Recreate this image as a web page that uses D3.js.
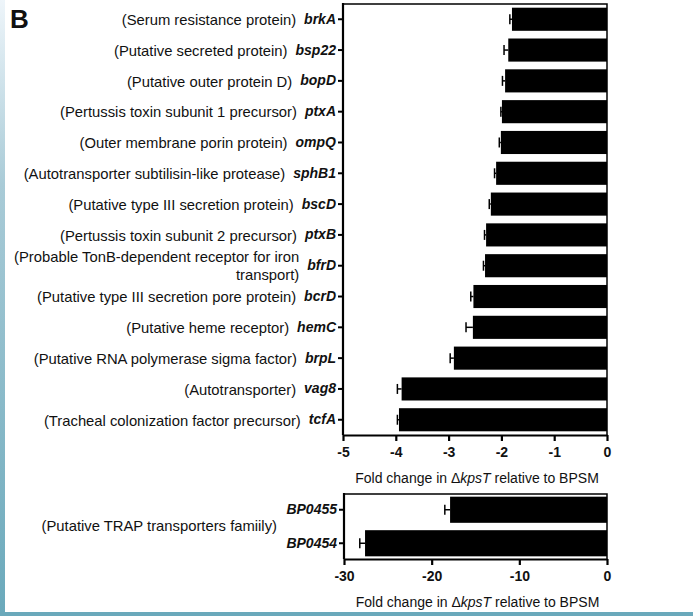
<!DOCTYPE html>
<html>
<head>
<meta charset="utf-8">
<script src="https://cdn.jsdelivr.net/npm/d3@7"></script>
<style>
  html, body { margin: 0; padding: 0; background: #fff; }
  svg { display: block; font-family: "Liberation Sans", Arial, sans-serif; }
</style>
</head>
<body>
<svg id="chart" width="693" height="616"></svg>
<script>
// Genes down-regulated in the kpsT mutant (fold change vs BPSM)
const genes = ["brkA", "bsp22", "bopD", "ptxA", "ompQ", "sphB1", "bscD", "ptxB", "bfrD", "bcrD", "hemC", "brpL", "vag8", "tcfA"];
const descriptions = [
  ["(Serum resistance protein)"],
  ["(Putative secreted protein)"],
  ["(Putative outer protein D)"],
  ["(Pertussis toxin subunit 1 precursor)"],
  ["(Outer membrane porin protein)"],
  ["(Autotransporter subtilisin-like protease)"],
  ["(Putative type III secretion protein)"],
  ["(Pertussis toxin subunit 2 precursor)"],
  ["(Probable TonB-dependent receptor for iron", "transport)"],
  ["(Putative type III secretion pore protein)"],
  ["(Putative heme receptor)"],
  ["(Putative RNA polymerase sigma factor)"],
  ["(Autotransporter)"],
  ["(Tracheal colonization factor precursor)"]
];
const foldChange = [-1.80, -1.87, -1.93, -1.99, -2.01, -2.10, -2.20, -2.29, -2.31, -2.53, -2.54, -2.90, -3.89, -3.94];
const foldError  = [0.04, 0.08, 0.05, 0.02, 0.03, 0.03, 0.03, 0.03, 0.03, 0.05, 0.13, 0.07, 0.08, 0.03];
const topTicks = [-5, -4, -3, -2, -1, 0];

// TRAP transporter genes
const trapGenes = ["BP0455", "BP0454"];
const trapDescription = "(Putative TRAP transporters famiily)";
const trapFold = [-17.9, -27.6];
const trapError = [0.6, 0.6];
const bottomTicks = [-30, -20, -10, 0];

const axisTitle = ["Fold change in \u0394", "kpsT", " relative to BPSM"];

const DESC_SIZE = 14.8;
const GENE_SIZE = 14;
const TICK_SIZE = 14;
const TITLE_SIZE = 14;

const svg = d3.select("#chart");

// page background with the tinted frame edge
const defs = svg.append("defs");
const grad = defs.append("linearGradient").attr("id", "edge").attr("x1", 0).attr("y1", 0).attr("x2", 0).attr("y2", 1);
grad.append("stop").attr("offset", "0").attr("stop-color", "#eef5fa");
grad.append("stop").attr("offset", "0.3").attr("stop-color", "#a9cbd7");
grad.append("stop").attr("offset", "1").attr("stop-color", "#6aa9bb");
svg.append("rect").attr("x", 0).attr("y", 0).attr("width", 693).attr("height", 616).attr("fill", "#fff");
svg.append("rect").attr("x", 0).attr("y", 0).attr("width", 5).attr("height", 616).attr("fill", "url(#edge)");
svg.append("rect").attr("x", 0).attr("y", 612).attr("width", 693).attr("height", 4).attr("fill", "#6aa9bb");

// panel letter
svg.append("text").attr("x", 10).attr("y", 28)
  .attr("font-size", 26).attr("font-weight", 900).attr("fill", "#111").text("B");

function drawPanel(cfg) {
  const x = d3.scaleLinear().domain(cfg.domain).range([cfg.left, cfg.right]);
  const y = d3.scaleBand().domain(cfg.cats).range([cfg.top, cfg.bottom])
    .paddingInner(cfg.padInner).paddingOuter(cfg.padOuter);
  const g = svg.append("g");

  // frame (top and right edges)
  g.append("path")
    .attr("d", `M${cfg.left},${cfg.top}H${cfg.right}V${cfg.bottom}`)
    .attr("fill", "none").attr("stroke", "#000").attr("stroke-width", 1.5);

  // bars
  g.selectAll("rect.bar").data(cfg.cats).join("rect")
    .attr("class", "bar")
    .attr("x", (d, i) => x(cfg.values[i]))
    .attr("y", d => y(d))
    .attr("width", (d, i) => x(0) - x(cfg.values[i]))
    .attr("height", y.bandwidth())
    .attr("fill", "#000");

  // error bars
  const eb = g.selectAll("g.err").data(cfg.cats).join("g").attr("class", "err");
  eb.append("line")
    .attr("x1", (d, i) => x(cfg.values[i]))
    .attr("x2", (d, i) => x(cfg.values[i] - cfg.errors[i]))
    .attr("y1", d => y(d) + y.bandwidth() / 2)
    .attr("y2", d => y(d) + y.bandwidth() / 2)
    .attr("stroke", "#000").attr("stroke-width", 1.5);
  eb.append("line")
    .attr("x1", (d, i) => x(cfg.values[i] - cfg.errors[i]))
    .attr("x2", (d, i) => x(cfg.values[i] - cfg.errors[i]))
    .attr("y1", d => y(d) + y.bandwidth() / 2 - 5)
    .attr("y2", d => y(d) + y.bandwidth() / 2 + 5)
    .attr("stroke", "#000").attr("stroke-width", 1.5);

  // x axis
  const xa = g.append("g").attr("transform", `translate(0,${cfg.bottom})`)
    .call(d3.axisBottom(x).tickValues(cfg.ticks).tickSize(6).tickSizeOuter(0).tickFormat(d => String(d)));
  xa.select(".domain").attr("stroke-width", 2.2);
  xa.selectAll(".tick line").attr("stroke-width", 2.2);
  xa.selectAll(".tick text").attr("font-size", TICK_SIZE).attr("font-weight", "bold")
    .attr("font-family", "Liberation Sans, Arial, sans-serif").attr("dy", "0.9em").attr("fill", "#111");

  // y axis
  const ya = g.append("g").attr("transform", `translate(${cfg.left},0)`)
    .call(d3.axisLeft(y).tickSize(5).tickSizeOuter(0).tickPadding(2));
  ya.select(".domain").attr("stroke-width", 2.2)
    .attr("d", `M0,${cfg.top - 1}V${cfg.bottom}`);
  ya.selectAll(".tick line").attr("stroke-width", 2);
  ya.selectAll(".tick text").attr("font-size", GENE_SIZE).attr("font-weight", "bold").attr("font-style", "italic")
    .attr("font-family", "Liberation Sans, Arial, sans-serif").attr("fill", "#111");

  // axis title
  const t = g.append("text")
    .attr("x", (cfg.left + cfg.right) / 2 + 2).attr("y", cfg.titleY)
    .attr("text-anchor", "middle").attr("font-size", TITLE_SIZE).attr("fill", "#111");
  t.append("tspan").text(axisTitle[0]);
  t.append("tspan").attr("font-style", "italic").text(axisTitle[1]);
  t.append("tspan").text(axisTitle[2]);

  return { x, y, g, ya };
}

const upperPanel = drawPanel({
  cats: genes, values: foldChange, errors: foldError, ticks: topTicks,
  domain: [-5, 0], left: 343, right: 607, top: 4, bottom: 435,
  padInner: 0.25, padOuter: 0.12, titleY: 483
});

// protein descriptions placed left of each gene label
upperPanel.ya.selectAll(".tick").each(function (d, i) {
  const tick = d3.select(this);
  const w = tick.select("text").node().getComputedTextLength();
  const lines = descriptions[i];
  const xr = -7 - w - 8;
  const lh = 18;
  lines.forEach((ln, k) => {
    tick.append("text")
      .attr("x", xr).attr("y", (k - (lines.length - 1) / 2) * lh + 1)
      .attr("dy", "0.32em").attr("text-anchor", "end")
      .attr("font-size", DESC_SIZE).attr("fill", "#111").text(ln);
  });
});

const lowerPanel = drawPanel({
  cats: trapGenes, values: trapFold, errors: trapError, ticks: bottomTicks,
  domain: [-30, 0], left: 344, right: 607, top: 494, bottom: 559,
  padInner: 0.22, padOuter: 0.08, titleY: 607
});

lowerPanel.g.append("text")
  .attr("x", 277).attr("y", (lowerPanel.y("BP0455") + lowerPanel.y("BP0454") + lowerPanel.y.bandwidth()) / 2)
  .attr("dy", "0.32em").attr("text-anchor", "end")
  .attr("font-size", DESC_SIZE).attr("fill", "#111").text(trapDescription);
</script>
</body>
</html>
